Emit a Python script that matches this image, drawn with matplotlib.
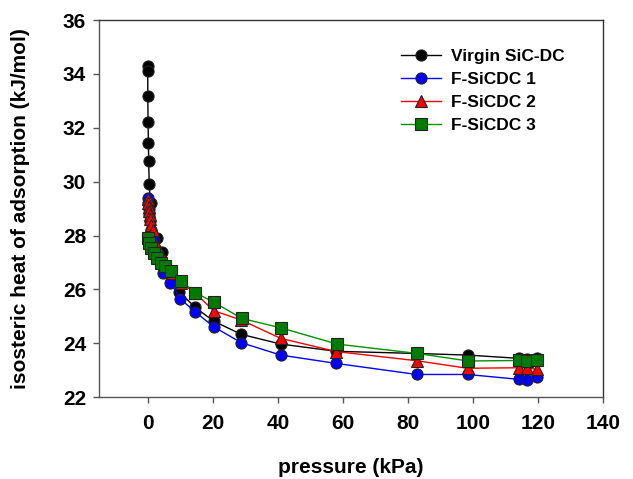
import numpy as np
import matplotlib
matplotlib.use("Agg")
import matplotlib.pyplot as plt

plt.rcParams["font.family"] = ["Liberation Sans", "DejaVu Sans"]
plt.rcParams["font.weight"] = "bold"

# Virgin SiC-DC
p_virgin = [0.02, 0.04, 0.08, 0.15, 0.25, 0.35, 0.5, 0.9, 2.8, 4.3, 6.5, 9.8,
            14.6, 20.3, 28.8, 40.9, 58.0, 82.7, 98.3, 114.0, 116.6, 119.5]
q_virgin = [34.30, 34.12, 33.20, 32.22, 31.45, 30.75, 29.92, 29.20, 27.90, 27.40, 26.60, 25.91,
            25.33, 24.82, 24.33, 23.97, 23.70, 23.62, 23.56, 23.44, 23.42, 23.46]

# F-SiCDC 1
p_f1 = [0.1, 0.2, 0.35, 0.5, 0.8, 1.2, 2.0, 3.0, 4.6, 7.0, 10.1, 14.6,
        20.3, 28.8, 40.9, 58.0, 82.7, 98.3, 114.0, 116.6, 119.5]
q_f1 = [29.40, 29.20, 29.00, 28.80, 28.55, 28.20, 27.80, 27.20, 26.62, 26.25, 25.64, 25.17,
        24.61, 24.02, 23.56, 23.25, 22.84, 22.84, 22.66, 22.63, 22.75]

# F-SiCDC 2
p_f2 = [0.1, 0.2, 0.3, 0.45, 0.6, 0.8, 1.1, 1.6, 3.0, 5.0, 7.5, 10.3, 14.7,
        20.3, 28.8, 40.9, 58.0, 82.7, 98.3, 114.0, 116.6, 119.5]
q_f2 = [29.35, 29.20, 29.05, 28.90, 28.75, 28.60, 28.40, 28.20, 27.60, 27.10, 26.60, 26.25, 25.85,
        25.21, 24.86, 24.18, 23.69, 23.35, 23.07, 23.09, 23.09, 23.03]

# F-SiCDC 3
p_f3 = [0.05, 0.3, 1.0, 2.0, 3.0, 4.2, 5.5, 7.2, 10.3, 14.6,
        20.4, 29.0, 41.0, 58.2, 82.9, 98.5, 114.1, 116.7, 119.6]
q_f3 = [27.89, 27.71, 27.52, 27.34, 27.15, 26.97, 26.85, 26.69, 26.32, 25.88,
        25.52, 24.92, 24.57, 23.97, 23.62, 23.34, 23.36, 23.34, 23.37]

series = [
    ("Virgin SiC-DC", p_virgin, q_virgin, "o", "black", "black"),
    ("F-SiCDC 1", p_f1, q_f1, "o", "blue", "#0000ff"),
    ("F-SiCDC 2", p_f2, q_f2, "^", "red", "#ff0000"),
    ("F-SiCDC 3", p_f3, q_f3, "s", "#009000", "#007a00"),
]

fig = plt.figure(figsize=(6.33, 4.79), dpi=100)
ax = fig.add_axes([0.156, 0.171, 0.797, 0.787])

for label, p, q, m, lc, fc in series:
    ax.plot(p, q, color=lc, lw=1.0, marker=m, markersize=8,
            markerfacecolor=fc, markeredgecolor="#222222", markeredgewidth=0.8,
            label=label)

ax.set_xlim(-15, 140)
ax.set_ylim(22, 36)
ax.set_xticks(np.arange(0, 141, 20))
ax.set_yticks(np.arange(22, 37, 2))
ax.tick_params(direction="out", length=4, width=1, color="#555555", labelsize=15,
               top=False, right=False)
ax.tick_params(axis="x", pad=8)
ax.tick_params(axis="y", pad=5)
for t in ax.get_xticklabels() + ax.get_yticklabels():
    t.set_fontweight("bold")
for s in ax.spines.values():
    s.set_linewidth(1.0)
    s.set_color("#333333")
ax.spines["left"].set_color("#555555")
ax.spines["bottom"].set_color("#555555")

ax.set_xlabel("pressure (kPa)", fontsize=15, fontweight="bold", labelpad=18)
ax.set_ylabel("isosteric heat of adsorption (kJ/mol)", fontsize=15, fontweight="bold", labelpad=24)

leg = ax.legend(loc="upper right", bbox_to_anchor=(0.955, 0.965), frameon=False,
                handlelength=2.3, labelspacing=0.45, handletextpad=0.6,
                prop={"weight": "bold", "size": 12.5})

fig.savefig("out.png", dpi=100)
